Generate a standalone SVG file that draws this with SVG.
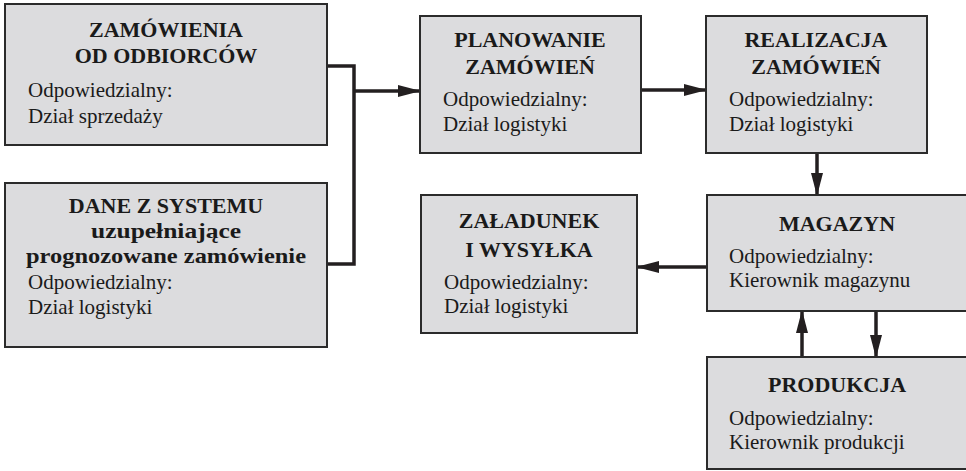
<svg xmlns="http://www.w3.org/2000/svg" width="966" height="471" viewBox="0 0 966 471">
  <style>
    .box { fill: #dcdcde; stroke: #2b2b2b; stroke-width: 2; }
    .title { font-family: "Liberation Serif", "DejaVu Serif", serif; font-size: 22px; font-weight: bold; fill: #1a1a1a; text-anchor: middle; }
    .body { font-family: "Liberation Serif", "DejaVu Serif", serif; font-size: 21px; fill: #1a1a1a; }
    .conn { fill: none; stroke: #231f20; stroke-width: 3.5; }
  </style>
  <defs>
    <marker id="arrow" markerUnits="userSpaceOnUse" markerWidth="23" markerHeight="12" refX="22" refY="6" orient="auto">
      <path d="M0,0 L23,6 L0,12 Z" fill="#231f20"/>
    </marker>
  </defs>
  <rect width="966" height="471" fill="#ffffff"/>

  <g id="connectors">
    <polyline class="conn" points="327,66 354,66 354,264 327,264"/>
    <line class="conn" x1="354" y1="91" x2="420" y2="91" marker-end="url(#arrow)"/>
    <line class="conn" x1="641" y1="90" x2="706" y2="90" marker-end="url(#arrow)"/>
    <line class="conn" x1="817" y1="153" x2="817" y2="195" marker-end="url(#arrow)"/>
    <line class="conn" x1="707" y1="267" x2="637" y2="267" marker-end="url(#arrow)"/>
    <line class="conn" x1="802" y1="357" x2="802" y2="311" marker-end="url(#arrow)"/>
    <line class="conn" x1="876" y1="311" x2="876" y2="357" marker-end="url(#arrow)"/>
  </g>

  <g id="zamowienia">
    <rect class="box" x="5" y="4" width="322" height="141"/>
    <text class="title" x="166" y="37">ZAMÓWIENIA</text>
    <text class="title" x="166" y="63">OD ODBIORCÓW</text>
    <text class="body" x="28" y="97">Odpowiedzialny:</text>
    <text class="body" x="28" y="123">Dział sprzedaży</text>
  </g>

  <g id="dane-systemu">
    <rect class="box" x="5" y="183" width="322" height="164"/>
    <text class="title" x="166" y="213">DANE Z SYSTEMU</text>
    <text class="title" x="166" y="238" textLength="150" lengthAdjust="spacingAndGlyphs">uzupełniające</text>
    <text class="title" x="166" y="263" textLength="280" lengthAdjust="spacingAndGlyphs">prognozowane zamówienie</text>
    <text class="body" x="28" y="289">Odpowiedzialny:</text>
    <text class="body" x="28" y="314">Dział logistyki</text>
  </g>

  <g id="planowanie">
    <rect class="box" x="420" y="16" width="221" height="137"/>
    <text class="title" x="530" y="47">PLANOWANIE</text>
    <text class="title" x="530" y="74">ZAMÓWIEŃ</text>
    <text class="body" x="443" y="106">Odpowiedzialny:</text>
    <text class="body" x="443" y="131">Dział logistyki</text>
  </g>

  <g id="realizacja">
    <rect class="box" x="706" y="16" width="221" height="137"/>
    <text class="title" x="816" y="47">REALIZACJA</text>
    <text class="title" x="816" y="74">ZAMÓWIEŃ</text>
    <text class="body" x="729" y="106">Odpowiedzialny:</text>
    <text class="body" x="729" y="131">Dział logistyki</text>
  </g>

  <g id="zaladunek">
    <rect class="box" x="421" y="195" width="216" height="138"/>
    <text class="title" x="529" y="228">ZAŁADUNEK</text>
    <text class="title" x="529" y="257">I WYSYŁKA</text>
    <text class="body" x="444" y="289">Odpowiedzialny:</text>
    <text class="body" x="444" y="313">Dział logistyki</text>
  </g>

  <g id="magazyn">
    <rect class="box" x="707" y="195" width="262" height="116"/>
    <text class="title" x="837" y="231">MAGAZYN</text>
    <text class="body" x="729" y="263">Odpowiedzialny:</text>
    <text class="body" x="729" y="287">Kierownik magazynu</text>
  </g>

  <g id="produkcja">
    <rect class="box" x="707" y="357" width="262" height="112"/>
    <text class="title" x="837" y="392">PRODUKCJA</text>
    <text class="body" x="729" y="425">Odpowiedzialny:</text>
    <text class="body" x="729" y="449">Kierownik produkcji</text>
  </g>
</svg>
